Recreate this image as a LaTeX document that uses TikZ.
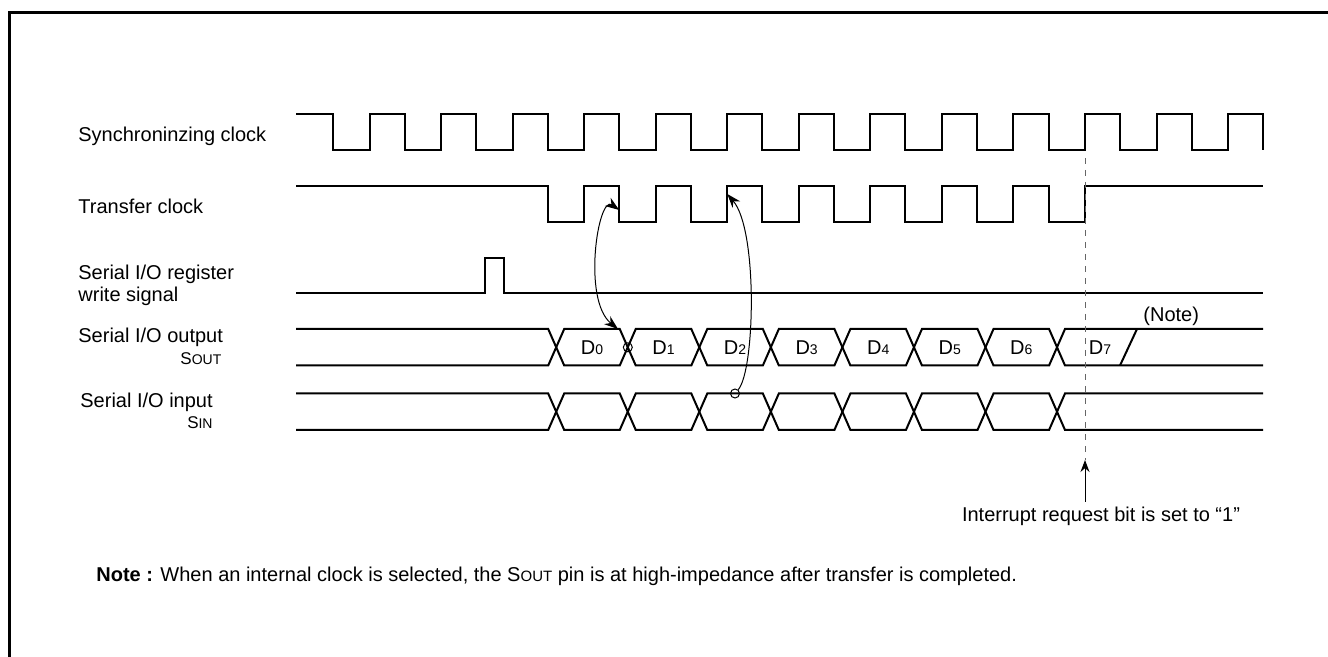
\documentclass[tikz,border=0pt]{standalone}
\usepackage{fontspec}
\setmainfont{Liberation Sans}
\usetikzlibrary{arrows.meta,positioning}
\tikzset{
wave/.style={line width=1pt,line join=miter},
lbl/.style={inner sep=0pt,anchor=base west,font=\fontsize{10}{11}\selectfont},
cell/.style={inner sep=0pt,font=\fontsize{10}{11}\selectfont},
link/.style={line width=.5pt},
dot/.style={draw,circle,line width=.5pt,inner sep=0pt,minimum size=4.5pt},
marker/.style={line width=.5pt,dash pattern=on 3pt off 3pt,black!60},
bigtip/.style={-{Stealth[length=7pt,width=5pt]}}
}
\newcommand{\digsub}[1]{{\fontsize{7}{8}\selectfont #1}}
\newcommand{\pinname}[2]{{\fontsize{8.5}{9}\selectfont #1}{\fontsize{7}{8}\selectfont #2}}

\begin{document}
\begin{tikzpicture}[x=.5pt,y=-.5pt]
\useasboundingbox (0,0) rectangle (1328,657);
\draw[line width=1.25pt] (9.3,657) -- (9.3,12.7) -- (1328,12.7);

% signal names
\node[lbl] (sync) at (78,141.7) {Synchroninzing clock};
\node[lbl] (xfer) at (78,213.3) {Transfer clock};
\node[lbl] (wr) at (78,280) {Serial I/O register};
\node[lbl] (wr2) at (78,301.7) {write signal};
\node[lbl] (out) at (78,343) {Serial I/O output};
\node[lbl,anchor=base east] (out2) at (221.7,365) {\pinname{S}{OUT}};
\node[lbl] (in) at (80,407.7) {Serial I/O input};
\node[lbl,anchor=base east] (in2) at (213,429) {\pinname{S}{IN}};

% clocks
\draw[wave] (296,114) foreach \k in {0,...,12}{-- ({333+71.55*\k},114) -- ++(0,36.5) -- ++(36.5,0) -- ++(0,-36.5)} -- (1263,114) -- (1263,150.5);
\draw[wave] (296,186) foreach \k in {3,...,10}{-- ({333+71.55*\k},186) -- ++(0,36.5) -- ++(36.5,0) -- ++(0,-36.5)} -- (1263,186);

% write pulse
\draw[wave] (296,293.5) -- (485,293.5) -- (485,258) -- (503.5,258) -- (503.5,293.5) -- (1263,293.5);

% data lines
\foreach \T/\B in {329/365.5,393.5/430}{
  \pgfmathsetmacro\M{(\T+\B)/2}
  \draw[wave] (296,\T) -- (548.2,\T) -- (556.2,\M) -- (548.2,\B) -- (296,\B);
  \foreach \j in {0,...,6}{
    \pgfmathsetmacro\ca{556.2+71.55*\j}
    \pgfmathsetmacro\cb{\ca+71.55}
    \draw[wave] (\ca,\M) -- ({\ca+8},\T) -- ({\cb-8},\T) -- (\cb,\M) -- ({\cb-8},\B) -- ({\ca+8},\B) -- cycle;
  }
  \draw[wave] (1263,\T) -- (1065,\T) -- (1057,\M) -- (1065,\B) -- (1263,\B);
}
\draw[wave] (1120,365.5) -- (1137,329);
\foreach \j in {0,...,6}
  \node[cell] (d\j) at ({592+71.55*\j},347.5) {D\digsub{\j}};
\node[cell] (d7) at (1100,347.5) {D\digsub{7}};
\node[lbl] (hiz) at (1143,321.7) {(Note)};

% timing relations
\coordinate (e1) at (619.2,210);
\coordinate (t1) at (618,329);
\node[dot] (x1) at (627.8,347.3) {};
\draw[link,{Stealth[length=7pt,width=5pt]}-{Stealth[length=7pt,width=5pt]}] (e1) .. controls (598,195) and (582,300) .. (t1);
\coordinate (e2) at (727.3,194);
\node[dot] (s2) at (735,393.5) {};
\draw[link,bigtip] (s2) .. controls (755,370) and (758,230) .. (e2);

% interrupt
\coordinate (irqtop) at (1085,158);
\coordinate (irqtip) at (1085,460);
\draw[marker] (irqtop) -- (irqtip);
\node[cell,inner sep=2.5pt,anchor=base] (irq) at (1101,521.7) {Interrupt request bit is set to “1”};
\draw[link,-{Stealth[length=6pt,width=4.5pt]}] (irq.north -| irqtip) -- (irqtip);

\node[lbl] (note) at (96,581) {\textbf{Note :} When an internal clock is selected, the S{\fontsize{7.5}{9}\selectfont OUT} pin is at high-impedance after transfer is completed.};
\end{tikzpicture}
\end{document}
